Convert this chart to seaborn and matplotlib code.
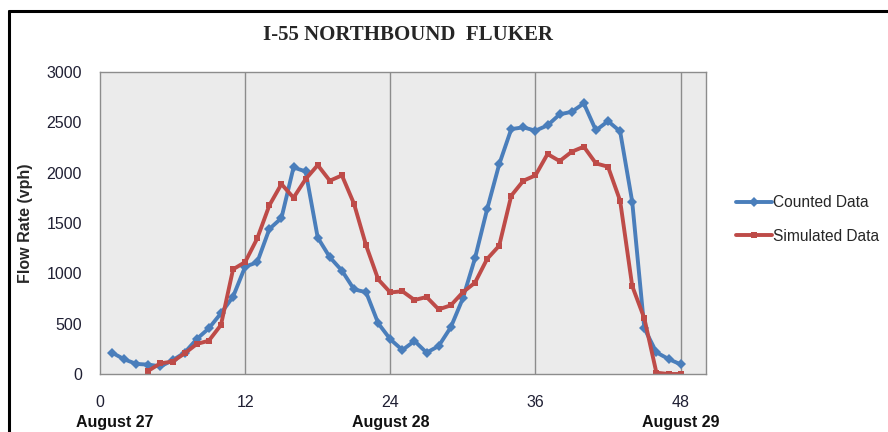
import pandas as pd
import matplotlib.pyplot as plt
import seaborn as sns
from matplotlib.lines import Line2D

# --------------------------------------------------
# Data
# --------------------------------------------------
counted_x = list(range(1, 49))
counted_flow = [212, 146, 100, 93, 76, 136, 212, 347, 454, 603, 768, 1066,
                1110, 1440, 1549, 2052, 2012, 1355, 1160, 1027, 841, 812, 504, 345,
                238, 328, 212, 278, 464, 752, 1149, 1635, 2082, 2433, 2450, 2417,
                2470, 2579, 2605, 2688, 2420, 2512, 2410, 1711, 454, 215, 149, 96]

simulated_x = list(range(4, 49))
simulated_flow = [33, 106, 123, 205, 298, 331, 487, 1040, 1112,
                  1347, 1675, 1887, 1751, 1936, 2075, 1920, 1973, 1691, 1277, 940, 810,
                  822, 735, 765, 642, 682, 812, 907, 1142, 1274, 1771, 1920, 1973,
                  2185, 2115, 2208, 2258, 2092, 2059, 1721, 874, 553, 13, 0, 0]

x_ticks = [0, 12, 24, 36, 48]
y_ticks = [0, 500, 1000, 1500, 2000, 2500, 3000]
day_labels = ["August 27", "August 28", "August 29"]
day_pos = [1.2, 24, 48]

df = pd.concat([
    pd.DataFrame({"hour": counted_x, "flow": counted_flow, "series": "Counted Data"}),
    pd.DataFrame({"hour": simulated_x, "flow": simulated_flow, "series": "Simulated Data"}),
])

# --------------------------------------------------
# Style
# --------------------------------------------------
sns.set_style("white", {"axes.facecolor": "#EBEBEB", "axes.edgecolor": "#8C8C8C"})
plt.rcParams["font.family"] = ["Liberation Sans", "DejaVu Sans"]

fig = plt.figure(figsize=(8.88, 4.32), dpi=100)
ax = fig.add_axes([100 / 888, 58 / 432, 606 / 888, 302 / 432])

palette = {"Counted Data": "#4A7EBB", "Simulated Data": "#BE4B48"}
markers = {"Counted Data": "D", "Simulated Data": "s"}
sns.lineplot(data=df, x="hour", y="flow", hue="series", style="series",
             palette=palette, markers=markers, dashes=False, linewidth=2.8,
             markersize=5, markeredgewidth=0, ax=ax)

ax.set_xlim(0, 50.1)
ax.set_ylim(0, 3000)
ax.set_xticks(x_ticks)
ax.set_yticks(y_ticks)
ax.set_xlabel("")
ax.set_ylabel("Flow Rate (vph)", fontsize=11.5, fontweight="bold", labelpad=10)
ax.tick_params(axis="both", direction="out", length=6, width=1, color="#8C8C8C",
               labelsize=11.5, labelcolor="#1F1F33")
ax.tick_params(axis="x", pad=9)
ax.tick_params(axis="y", pad=7)
for s in ax.spines.values():
    s.set_color("#8C8C8C")
    s.set_linewidth(1)

for xv in x_ticks[1:]:
    ax.axvline(xv, color="#8C8C8C", linewidth=1, zorder=0)

for lab, xp in zip(day_labels, day_pos):
    ax.text(xp, -0.16, lab, transform=ax.get_xaxis_transform(), ha="center",
            va="center", fontsize=11.5, fontweight="bold", color="#111111")

fig.text(408 / 888, 1 - 35 / 432, "I-55 NORTHBOUND  FLUKER", ha="center", va="center",
         fontsize=15, fontweight="bold", family=["Liberation Serif", "DejaVu Serif"])

ax.legend(title=None, loc="center left", bbox_to_anchor=(736 / 888, 1 - 219.5 / 432),
          bbox_transform=fig.transFigure, frameon=False, fontsize=11.2,
          handlelength=2.3, handletextpad=0.1, labelspacing=1.2,
          borderpad=0, borderaxespad=0)

# black frame around the chart area (left and top edges visible)
fig.add_artist(Line2D([9 / 888, 9 / 888], [0, 1 - 11 / 432], color="black", linewidth=2.2,
                      transform=fig.transFigure))
fig.add_artist(Line2D([9 / 888, 1], [1 - 11 / 432, 1 - 11 / 432], color="black",
                      linewidth=2.2, transform=fig.transFigure))

fig.savefig("out.png", dpi=100)
